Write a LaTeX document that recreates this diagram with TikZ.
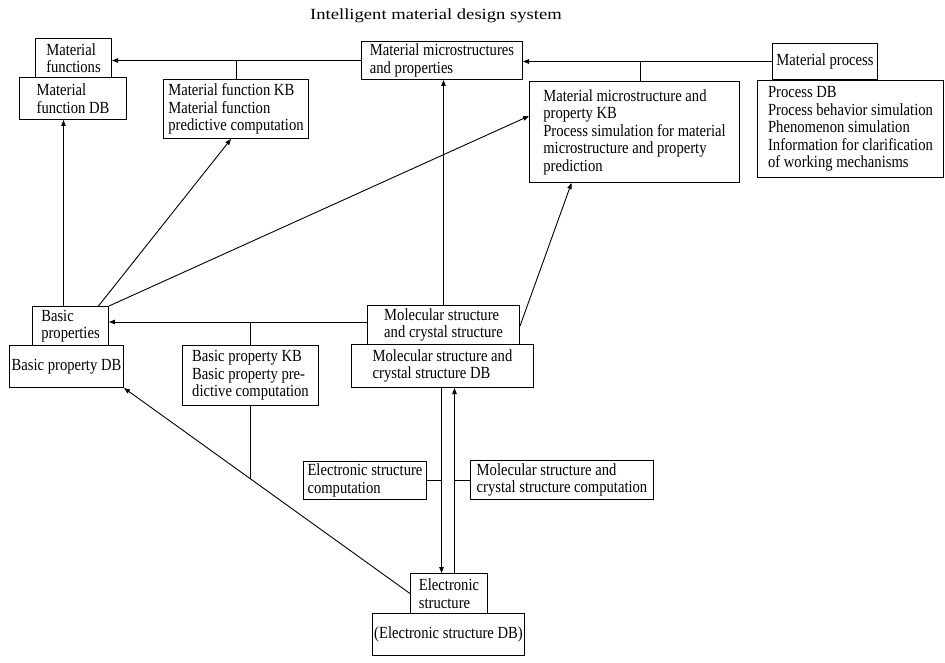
\documentclass[tikz,border=0pt]{standalone}
\usepackage{fontspec}
\setmainfont{Liberation Serif}[FakeStretch=0.86]
\newfontfamily\titlefont{Liberation Serif}[FakeStretch=1.2]
\usetikzlibrary{arrows.meta,calc}

\tikzset{
  box/.style={draw, rectangle, line width=1pt, inner sep=0pt, anchor=north west,
              align=left, font=\fontsize{17}{17.5}\selectfont},
  link/.style={line width=0.9pt},
  arr/.style={link, -{Triangle[length=6pt,width=4.5pt]}},
}

\begin{document}
\begin{tikzpicture}[x=1pt, y=-1pt]
\useasboundingbox (0,0) rectangle (945,663);

% heading
\node[font=\titlefont\fontsize{15.5}{18}\selectfont] (title) at (436,16) {Intelligent material design system};

% upper level: material functions
\node[box, minimum width=76pt,  minimum height=39pt] (mf)   at (35,38)  {Material\\functions};
\node[box, minimum width=107pt, minimum height=42pt] (mfdb) at (19,77)  {Material\\function DB};
\node[box, minimum width=145pt, minimum height=59pt] (mfkb) at (163,79) {Material function KB\\Material function\\predictive computation};

% upper level: microstructures and process
\node[box, minimum width=161pt, minimum height=38pt]  (mms)   at (361,41) {Material microstructures\\and properties};
\node[box, minimum width=210pt, minimum height=101pt] (mmskb) at (529,81) {Material microstructure and\\property KB\\Process simulation for material\\microstructure and property\\prediction};
\node[box, minimum width=105pt, minimum height=36pt]  (mp)    at (772,43) {Material process};
\node[box, minimum width=186pt, minimum height=97pt]  (mpdb)  at (757,80) {Process DB\\Process behavior simulation\\Phenomenon simulation\\Information for clarification\\of working mechanisms};

% middle level
\node[box, minimum width=76pt,  minimum height=39pt] (bp)   at (32,306)  {Basic\\properties};
\node[box, minimum width=114pt, minimum height=42pt] (bpdb) at (9,345)   {Basic property DB};
\node[box, minimum width=136pt, minimum height=60pt] (bpkb) at (182,345) {Basic property KB\\Basic property pre-\\dictive computation};
\node[box, minimum width=152pt, minimum height=39pt] (ms)   at (367,305) {Molecular structure\\and crystal structure};
\node[box, minimum width=182pt, minimum height=43pt] (msdb) at (351,344) {Molecular structure and\\crystal structure DB};

% lower level
\node[box, minimum width=123pt, minimum height=38pt] (esc)  at (303,461) {Electronic structure\\computation};
\node[box, minimum width=183pt, minimum height=39pt] (mscc) at (470,460) {Molecular structure and\\crystal structure computation};
\node[box, minimum width=77pt,  minimum height=40pt] (es)   at (410,573) {Electronic\\structure};
\node[box, minimum width=152pt, minimum height=42pt] (esdb) at (372,613) {(Electronic structure DB)};

% helper points
\coordinate (dn) at ([xshift=-1pt]msdb.south);
\coordinate (up) at ([xshift=12pt]msdb.south);
\coordinate (msw) at ([yshift=3pt]ms.west);

% top row of arrows
\draw[arr] (mms.west) -- (mms.west -| mf.east);
\draw[link] (mfkb.north) -- (mfkb.north |- mms.west);
\draw[arr] (mp.west) -- (mp.west -| mms.east);
\draw[link] ([xshift=6pt]mmskb.north) -- ([xshift=6pt]mmskb.north |- mp.west);

% from basic properties upwards
\draw[arr] ([xshift=-7pt]bp.north) -- ([xshift=-7pt]bp.north |- mfdb.south);
\draw[arr] ([xshift=28pt]bp.north) -- ([xshift=-5pt]mfkb.south);
\draw[arr] (bp.north east) -- ([yshift=-35pt]mmskb.north west);

% from molecular structure
\draw[arr] (msw) -- (msw -| bp.east);
\draw[link] (bpkb.north) -- (bpkb.north |- msw);
\draw[arr] (ms.north) -- (ms.north |- mms.south);
\draw[arr] ([yshift=-1pt]ms.east) -- ([xshift=-63pt]mmskb.south);

% between molecular structure DB and electronic structure
\draw[arr] (dn) -- (dn |- es.north);
\draw[arr] (up |- es.north) -- (up);
\draw[link] (esc.east) -- (esc.east -| dn);
\draw[link] (mscc.west) -- (mscc.west -| up);

% electronic structure to basic property DB
\draw[arr] (es.west) -- (bpdb.south east);
\draw[link] (bpkb.south) -- (intersection of bpkb.south--bpkb.north and es.west--bpdb.south east);
\end{tikzpicture}
\end{document}
